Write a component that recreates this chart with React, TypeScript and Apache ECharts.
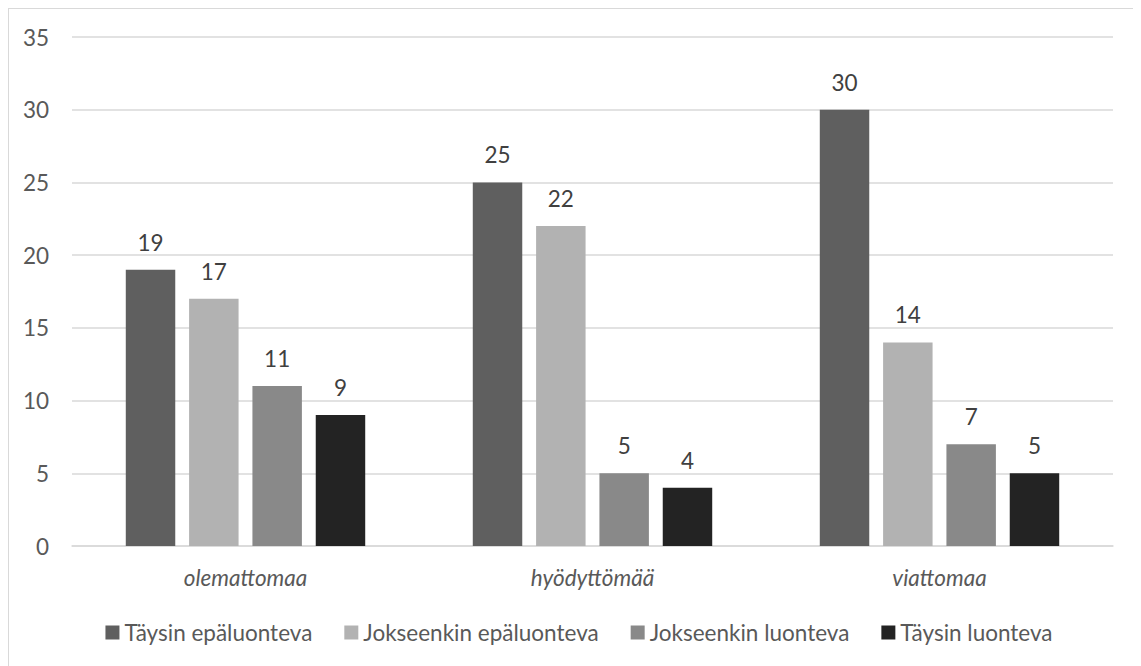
import React, { useEffect, useRef } from "react";
import * as echarts from "echarts";

const categories = ["olemattomaa", "hyödyttömää", "viattomaa"];
const seriesNames = ["Täysin epäluonteva", "Jokseenkin epäluonteva", "Jokseenkin luonteva", "Täysin luonteva"];
const taysinEpaluonteva = [19, 25, 30];
const jokseenkinEpaluonteva = [17, 22, 14];
const jokseenkinLuonteva = [11, 5, 7];
const taysinLuonteva = [9, 4, 5];
const colors = ["#5f5f5f", "#b2b2b2", "#898989", "#232323"];

export default function App() {
  const ref = useRef<HTMLDivElement>(null);
  useEffect(() => {
    if (!ref.current) return;
    const chart = echarts.init(ref.current, undefined, { renderer: "svg" });
    const data = [taysinEpaluonteva, jokseenkinEpaluonteva, jokseenkinLuonteva, taysinLuonteva];
    const font = "Lato, 'Open Sans', sans-serif";
    chart.setOption({
      animation: false,
      textStyle: { fontFamily: font },
      grid: { left: 63, top: 28, width: 1041, height: 509 },
      legend: {
        top: 607,
        left: "center",
        itemWidth: 14,
        itemHeight: 14,
        itemGap: 32,
        icon: "rect",
        textStyle: { color: "#595959", fontSize: 22.5, fontFamily: font },
        data: seriesNames,
      },
      xAxis: {
        type: "category",
        data: categories,
        axisLine: { lineStyle: { color: "#d9d9d9", width: 1.5 } },
        axisTick: { show: false },
        axisLabel: { color: "#595959", fontSize: 22.5, fontStyle: "italic", margin: 20, fontFamily: font },
      },
      yAxis: {
        type: "value",
        min: 0,
        max: 35,
        interval: 5,
        axisLine: { show: false },
        axisTick: { show: false },
        splitLine: { lineStyle: { color: "#d9d9d9", width: 1.5 } },
        axisLabel: { color: "#595959", fontSize: 22.5, margin: 23, fontFamily: font },
      },
      series: seriesNames.map((name, i) => ({
        name,
        type: "bar",
        data: data[i],
        barGap: "28%",
        barCategoryGap: "31%",
        itemStyle: { color: colors[i] },
        label: {
          show: true,
          position: "top",
          distance: 16,
          color: "#404040",
          fontSize: 22.5,
          fontFamily: font,
        },
      })),
    });
    return () => chart.dispose();
  }, []);
  return (
    <div
      ref={ref}
      style={{ width: 1140, height: 660, border: "1px solid #d9d9d9", boxSizing: "content-box" }}
    />
  );
}
